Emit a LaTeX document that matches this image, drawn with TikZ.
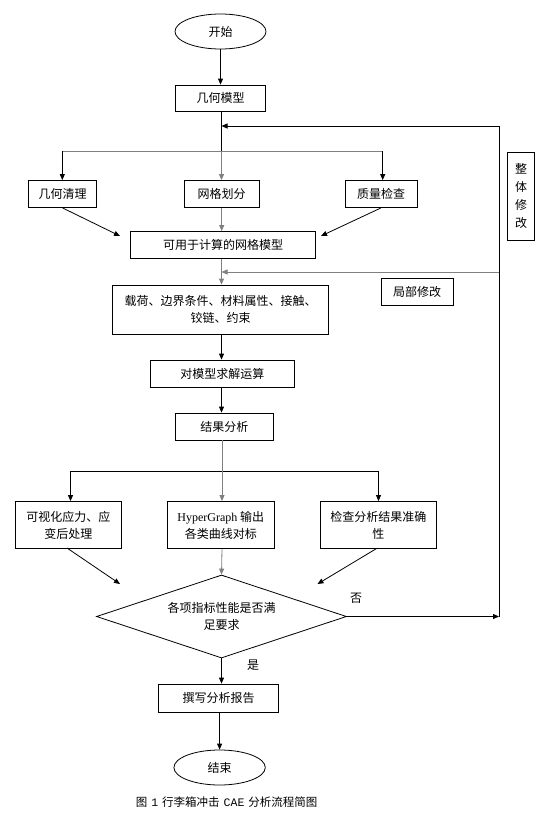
\documentclass[tikz,border=0pt]{standalone}
\usepackage{fontspec}
\setmainfont{Noto Sans CJK SC}
\newfontfamily\seriffont{Liberation Serif}
\newfontfamily\capmono{Liberation Mono}
\usetikzlibrary{shapes.geometric,arrows.meta}
\definecolor{lg}{gray}{0.5}
\begin{document}
\begin{tikzpicture}[x=1pt,y=-1pt,
  box/.style={draw, line width=0.8pt, inner sep=0pt, align=center, font=\fontsize{12}{17}\selectfont},
  oval/.style={ellipse, draw, line width=0.8pt, inner sep=0pt, font=\fontsize{12}{17}\selectfont},
  lbl/.style={inner sep=0pt, align=center, font=\fontsize{12}{17}\selectfont},
  ln/.style={line width=0.8pt},
  gln/.style={line width=0.8pt, draw=lg},
  arr/.style={-{Triangle[length=6pt,width=5pt]}, line width=0.8pt},
  garr/.style={arr, draw=lg}]
\useasboundingbox (0,0) rectangle (553,830);
% nodes
\node[oval, minimum width=91pt, minimum height=35pt] (start) at (220.5,31.5) {开始};
\node[box, minimum width=90pt, minimum height=26pt] (geo) at (220.5,98) {几何模型};
\coordinate (b1) at (221.5,151);
\coordinate (b1L) at (62.3,151);
\coordinate (b1R) at (382.7,151);
\node[box, minimum width=68pt, minimum height=27pt] (clean) at (62.5,194) {几何清理};
\node[box, minimum width=75pt, minimum height=27pt] (mesh) at (221.7,194) {网格划分};
\node[box, minimum width=72pt, minimum height=27pt] (qual) at (381,194) {质量检查};
\node[box, minimum width=185pt, minimum height=27pt] (calc) at (223,245) {可用于计算的网格模型};
\coordinate (d1) at (120,236);
\coordinate (d2) at (321,236);
\node[box, minimum width=27pt, minimum height=88pt, font=\fontsize{12}{18.3}\selectfont] (whole) at (521,196) {整\\体\\修\\改};
\node[box, minimum width=216.5pt, minimum height=49pt] (load) at (220.5,309.5) {载荷、边界条件、材料属性、接触、\\铰链、约束};
\node[box, minimum width=72pt, minimum height=27pt] (local) at (417,291.5) {局部修改};
\node[box, minimum width=144pt, minimum height=27pt] (solve) at (222.4,373.5) {对模型求解运算};
\node[box, minimum width=98pt, minimum height=27pt] (res) at (224.3,426.5) {结果分析};
\coordinate (b2) at (222,471);
\coordinate (b2L) at (70.5,471);
\coordinate (b2R) at (378.5,471);
\node[box, minimum width=106.5pt, minimum height=47pt] (vis) at (68.4,525) {可视化应力、应\\变后处理};
\node[box, minimum width=107pt, minimum height=47pt] (hyper) at (220.8,525) {{\seriffont HyperGraph} 输出\\各类曲线对标};
\node[box, minimum width=116pt, minimum height=47pt] (check) at (378.3,525) {检查分析结果准确\\性};
\coordinate (d3) at (120,584);
\coordinate (d4) at (317.5,584);
\node[diamond, draw, line width=0.8pt, minimum width=250pt, minimum height=83pt, inner sep=0pt, aspect=3] (dia) at (221.5,616.5) {};
\node[lbl] (diatext) at (221.5,616) {各项指标性能是否满\\足要求};
\node[box, minimum width=120pt, minimum height=28pt] (report) at (218.5,698) {撰写分析报告};
\node[oval, minimum width=91.4pt, minimum height=35pt] (end) at (219.6,767.5) {结束};
\node[lbl, font=\fontsize{11.5}{13}\selectfont] (cap) at (226.6,802) {图\hspace{4pt}{\capmono 1}\hspace{4pt}行李箱冲击\hspace{4pt}{\capmono CAE}\hspace{4pt}分析流程简图};
\node[lbl] (no) at (356,598) {否};
\node[lbl] (yes) at (253,665) {是};
\coordinate (lx1) at (499,126);
\coordinate (lx2) at (499,272);
\coordinate (lx3) at (499,616.5);
\coordinate (t1) at (221.5,126);
\coordinate (t2) at (221.5,272);
% connectors
\draw[arr] (start.south) -- (start.south |- geo.north);
\draw[ln] (b1 |- geo.south) -- (b1);
\draw[gln] (b1L) -- (b1R);
\draw[arr] (b1L) -- (b1L |- clean.north);
\draw[garr] (b1) -- (b1 |- mesh.north);
\draw[arr] (b1R) -- (b1R |- qual.north);
\draw[arr] (clean.south) -- (d1);
\draw[arr] (qual.south) -- (d2);
\draw[garr] (mesh.south) -- (mesh.south |- calc.north);
\draw[garr] (b1 |- calc.south) -- (b1 |- load.north);
\draw[garr] (lx2) -- (t2);
\draw[arr] (b1 |- load.south) -- (b1 |- solve.north);
\draw[arr] (b1 |- solve.south) -- (b1 |- res.north);
\draw[gln] (b2 |- res.south) -- (b2);
\draw[ln] (b2L) -- (b2R);
\draw[arr] (b2L) -- (b2L |- vis.north);
\draw[garr] (b2) -- (b2 |- hyper.north);
\draw[arr] (b2R) -- (b2R |- check.north);
\draw[arr] (67,548) -- (d3);
\draw[arr] (377.4,548) -- (d4);
\draw[garr] (b2 |- hyper.south) -- (dia.north);
\draw[arr] (dia.east) -- (lx3);
\draw[arr] (lx3) -- (lx1) -- (t1);
\draw[arr] (dia.south) -- (dia.south |- report.north);
\draw[arr] (report.south -| end.north) -- (end.north);
\end{tikzpicture}
\end{document}
